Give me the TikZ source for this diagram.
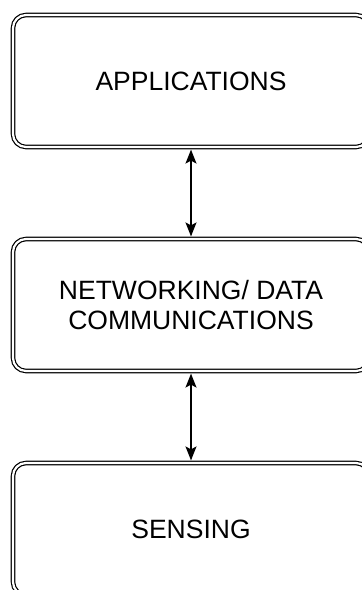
\documentclass[tikz,border=0pt]{standalone}
\usepackage{fontspec}
\setmainfont{Liberation Sans}
\usetikzlibrary{arrows.meta}

\begin{document}
\begin{tikzpicture}[x=1pt,y=-1pt,>={Stealth[length=14pt,width=11pt,inset=3pt]},
  layerbox/.style={draw,double,line width=1.2pt,double distance=2.2pt,rounded corners=13pt,
    minimum width=356pt,minimum height=132pt,align=center,inner sep=0pt,
    font=\fontsize{26.5}{29.5}\selectfont}]
\useasboundingbox (0,0) rectangle (362,590);
\node[layerbox](app) at (191,81) {APPLICATIONS};
\node[layerbox](net) at (191,305) {NETWORKING/ DATA\\COMMUNICATIONS};
\node[layerbox](sens) at (191,529) {SENSING};

\draw[<->,line width=1.2pt,shorten <=2pt,shorten >=2pt] (app) -- (net);
\draw[<->,line width=1.2pt,shorten <=2pt,shorten >=2pt] (net) -- (sens);
\end{tikzpicture}
\end{document}
